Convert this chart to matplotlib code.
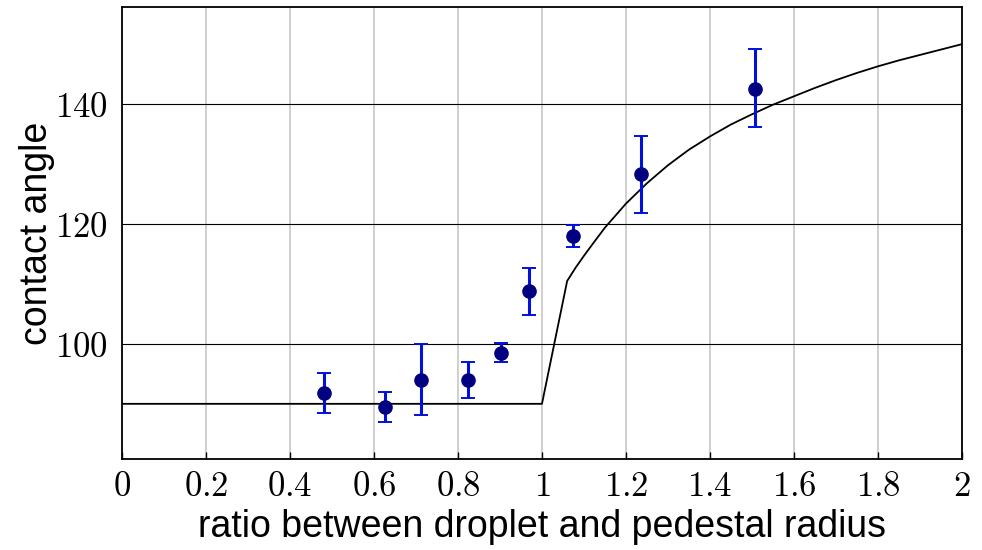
import numpy as np
import matplotlib
matplotlib.use("Agg")
import matplotlib.pyplot as plt
from matplotlib.ticker import FuncFormatter

plt.rcParams['mathtext.fontset'] = 'cm'
plt.rcParams['font.family'] = ['Liberation Sans', 'DejaVu Sans']

# measured points (ratio, angle, error bar ends)
ratio = [0.481, 0.626, 0.713, 0.825, 0.902, 0.968, 1.075, 1.236, 1.507]
angle = [91.8, 89.4, 94.0, 94.0, 98.5, 108.9, 118.0, 128.3, 142.6]
err_lo = [88.4, 86.9, 88.2, 90.9, 96.9, 104.9, 116.1, 121.8, 136.2]
err_hi = [95.1, 91.9, 99.9, 97.0, 100.2, 112.7, 119.9, 134.6, 149.2]

# model curve
curve_x = [0.0, 1.0, 1.06, 1.08, 1.1, 1.12, 1.15, 1.2, 1.25, 1.3, 1.35, 1.4, 1.45,
           1.5, 1.55, 1.6, 1.65, 1.7, 1.75, 1.8, 1.85, 1.9, 1.95, 2.0]
curve_y = [90.0, 90.0, 110.5, 112.7, 114.7, 116.6, 119.4, 123.4, 126.8, 129.8, 132.4, 134.6, 136.6,
           138.3, 139.9, 141.3, 142.7, 144.0, 145.2, 146.3, 147.3, 148.2, 149.1, 150.0]

xticks = [0, 0.2, 0.4, 0.6, 0.8, 1, 1.2, 1.4, 1.6, 1.8, 2]
yticks = [100, 120, 140]

fig = plt.figure(figsize=(9.82, 5.5), dpi=100)
ax = fig.add_axes([0.1242, 0.1655, 0.8554, 0.8218])

ax.set_xlim(0, 2)
ax.set_ylim(80.8, 156.2)

for xv in xticks:
    ax.axvline(xv, color='#c8c8c8', lw=1.2, zorder=0)
for yv in yticks:
    ax.axhline(yv, color='black', lw=0.8, zorder=0)

ax.plot(curve_x, curve_y, color='black', lw=1.3, zorder=2)

a = np.array(angle)
yerr = [a - np.array(err_lo), np.array(err_hi) - a]
ax.errorbar(ratio, angle, yerr=yerr, fmt='o', color='#000080', ms=9.5,
            ecolor='#0010dd', elinewidth=2.2, capsize=5, capthick=1.4, zorder=3)

ax.set_xticks(xticks)
ax.set_yticks(yticks)
fmt = lambda v, p: r'$%s$' % ('%g' % v)
ax.xaxis.set_major_formatter(FuncFormatter(fmt))
ax.yaxis.set_major_formatter(FuncFormatter(fmt))
ax.tick_params(axis='x', direction='in', length=5, width=1, labelsize=25, pad=8)
ax.tick_params(axis='y', length=0, labelsize=25, pad=10)

for s in ax.spines.values():
    s.set_linewidth(1.3)

ax.set_xlabel('ratio between droplet and pedestal radius', fontsize=27, labelpad=4)
ax.set_ylabel('contact angle', fontsize=27, labelpad=0)

fig.savefig('out.png', dpi=100)
